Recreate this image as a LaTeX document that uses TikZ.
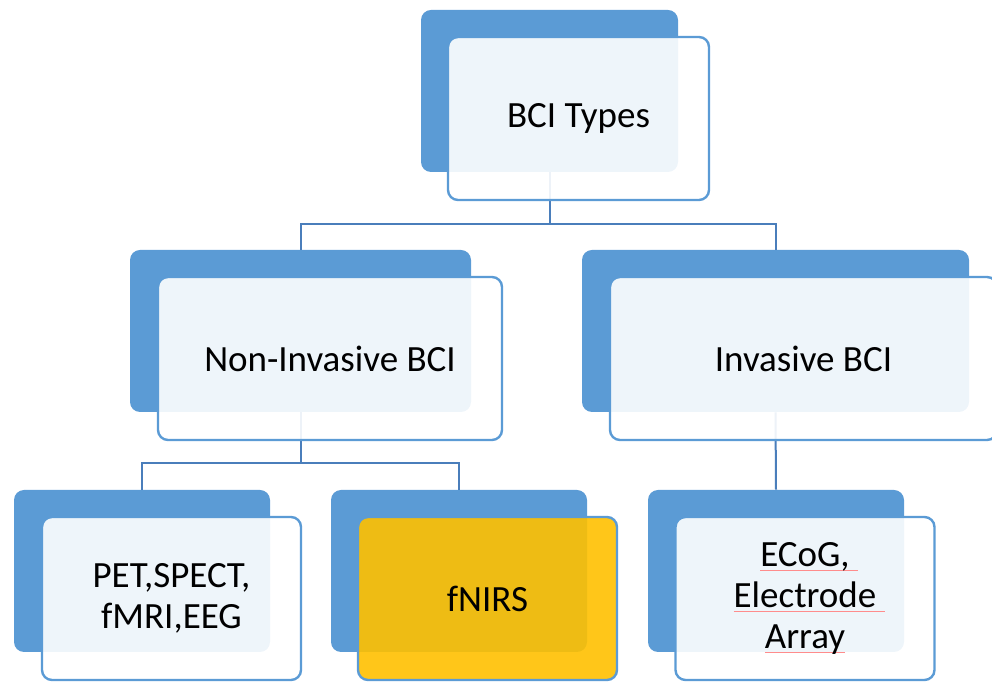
\documentclass[tikz,border=0pt]{standalone}
\usepackage{fontspec}
\setmainfont{Carlito}
\usepackage{tikz}
\usetikzlibrary{positioning}
\usepackage{xcolor}

\definecolor{bciblue}{HTML}{5B9BD5}
\definecolor{bciline}{HTML}{4A7EBB}
\definecolor{bciyellow}{HTML}{FFC000}

% spell-check style underline
\newlength{\squiglen}
\newcommand{\squig}[1]{\settowidth{\squiglen}{#1}\rlap{\textcolor{red!45}{\rule[-0.25ex]{\squiglen}{0.5pt}}}#1}

\begin{document}
\begin{tikzpicture}[
    x=0.5pt, y=-0.5pt,
    back/.style={rectangle, rounded corners=5pt, fill=bciblue, minimum width=#1, minimum height=81pt, inner sep=0pt},
    back/.default=128pt,
    front/.style={rectangle, rounded corners=5pt, draw=bciblue, line width=1.2pt, fill=white, fill opacity=0.9, text opacity=1,
                  minimum width=#1, minimum height=81.5pt, inner sep=0pt, align=center, font=\fontsize{18.5}{20.5}\selectfont},
    front/.default=129.5pt,
    link/.style={draw=bciline, line width=1pt}
]
\clip (0,0) rectangle (992,683);

% back panels
\node[back=128.5pt] (typesbg) at (549.5, 91) {};
\node[back=170.5pt] (noninvbg) at (300.5, 331) {};
\node[back=193.5pt] (invbg) at (775.5, 331) {};
\node[back] (petbg) at (142, 571) {};
\node[back] (fnirsbg) at (459, 571) {};
\node[back] (ecogbg) at (776, 571) {};

% tree connectors
\draw[link] (typesbg.south) -- ++(0, 52) -| (noninvbg.north);
\draw[link] (typesbg.south) -- ++(0, 52) -| (invbg.north);
\draw[link] (noninvbg.south) -- ++(0, 51) -| (petbg.north);
\draw[link] (noninvbg.south) -- ++(0, 51) -| (fnirsbg.north);
\draw[link] (invbg.south) -- (ecogbg.north);

% front panels with labels
\node[front=130.5pt] (types) at (578.5, 118.5) {BCI Types};
\node[front=172pt] (noninv) at (330, 358.5) {Non-Invasive BCI};
\node[front=193.5pt] (inv) at (803.5, 358.5) {Invasive BCI};
\node[front] (pet) at (171.5, 598.5) {PET,SPECT,\\fMRI,EEG};
\node[front, fill=bciyellow] (fnirs) at (487.5, 598.5) {fNIRS};
\node[front] (ecog) at (805, 598.5) {\squig{ECoG,~}\\\squig{Electrode~}\\\squig{Array}};

\end{tikzpicture}
\end{document}
